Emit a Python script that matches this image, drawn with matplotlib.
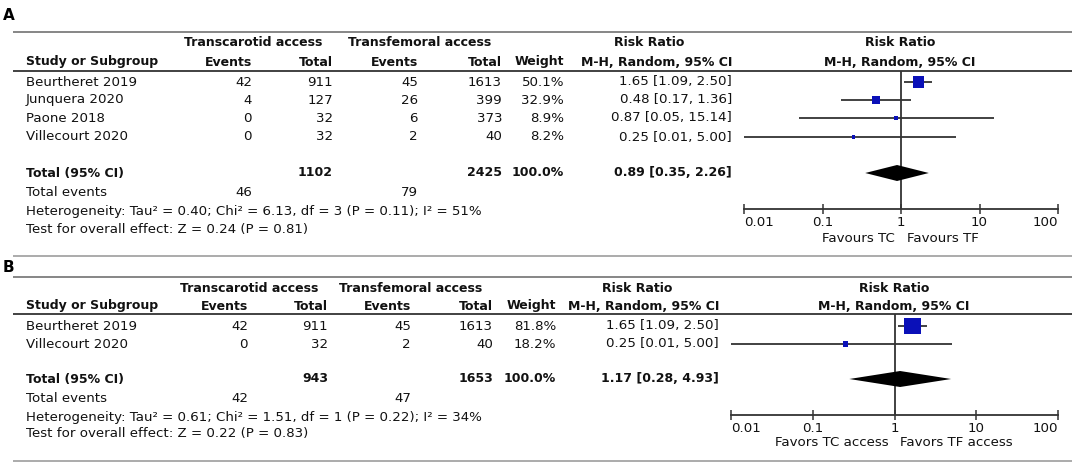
import numpy as np
import matplotlib.pyplot as plt
from matplotlib.ticker import NullLocator

plt.rcParams['font.family'] = ['DejaVu Sans']

# ---- panel A data
studies_a = ['Beurtheret 2019', 'Junquera 2020', 'Paone 2018', 'Villecourt 2020']
tc_events_a = [42, 4, 0, 0]
tc_total_a = [911, 127, 32, 32]
tf_events_a = [45, 26, 6, 2]
tf_total_a = [1613, 399, 373, 40]
weight_a = [50.1, 32.9, 8.9, 8.2]
rr_a = [1.65, 0.48, 0.87, 0.25]
lo_a = [1.09, 0.17, 0.05, 0.01]
hi_a = [2.50, 1.36, 15.14, 5.00]
pooled_a = [0.89, 0.35, 2.26]
het_a = 'Heterogeneity: Tau² = 0.40; Chi² = 6.13, df = 3 (P = 0.11); I² = 51%'
test_a = 'Test for overall effect: Z = 0.24 (P = 0.81)'
favours_a = ['Favours TC', 'Favours TF']

# ---- panel B data
studies_b = ['Beurtheret 2019', 'Villecourt 2020']
tc_events_b = [42, 0]
tc_total_b = [911, 32]
tf_events_b = [45, 2]
tf_total_b = [1613, 40]
weight_b = [81.8, 18.2]
rr_b = [1.65, 0.25]
lo_b = [1.09, 0.01]
hi_b = [2.50, 5.00]
pooled_b = [1.17, 0.28, 4.93]
het_b = 'Heterogeneity: Tau² = 0.61; Chi² = 1.51, df = 1 (P = 0.22); I² = 34%'
test_b = 'Test for overall effect: Z = 0.22 (P = 0.83)'
favours_b = ['Favors TC access', 'Favors TF access']

total_weight = 100.0
ticks = [0.01, 0.1, 1, 10, 100]
tick_labels = ['0.01', '0.1', '1', '10', '100']

W, H = 1084, 468
FS = 9.6      # regular text
FSB = 9       # bold text
TXT = '#111111'
BLUE = '#0a10b8'
DARK = '#333333'

fig = plt.figure(figsize=(W / 100, H / 100), dpi=100)
tab = fig.add_axes([0, 0, 1, 1])
tab.set_xlim(0, W)
tab.set_ylim(H, 0)
tab.axis('off')


def t(x, y, s, ha='left', bold=False):
    tab.text(x, y, s, ha=ha, va='center', color=TXT,
             fontsize=FSB if bold else FS,
             fontweight='bold' if bold else 'normal')


def panel(label, lay, studies, tce, tct, tfe, tft, wts, rr, lo, hi, pooled,
          het, test, favours):
    c = lay['cols']
    tab.text(3, lay['label'], label, fontsize=11, fontweight='bold',
             va='center', color='black')
    tab.hlines(lay['top'], 13, 1072, color='#7d7d7d', lw=1.3)
    tab.hlines(lay['hline'], 13, 1072, color=DARK, lw=1.3)
    tab.hlines(lay['bottom'], 13, 1072, color='#a5a5a5', lw=1.3)

    h1, h2 = lay['head']
    t(c['tc_mid'], h1, 'Transcarotid access', ha='center', bold=True)
    t(c['tf_mid'], h1, 'Transfemoral access', ha='center', bold=True)
    t(c['rr_mid'], h1, 'Risk Ratio', ha='center', bold=True)
    t(lay['fx_mid'], h1, 'Risk Ratio', ha='center', bold=True)
    t(26, h2, 'Study or Subgroup', bold=True)
    t(c['tce'], h2, 'Events', ha='right', bold=True)
    t(c['tct'], h2, 'Total', ha='right', bold=True)
    t(c['tfe'], h2, 'Events', ha='right', bold=True)
    t(c['tft'], h2, 'Total', ha='right', bold=True)
    t(c['w'], h2, 'Weight', ha='right', bold=True)
    t(c['rr'], h2, 'M-H, Random, 95% CI', ha='right', bold=True)
    t(lay['fx_mid'], h2, 'M-H, Random, 95% CI', ha='center', bold=True)

    for i, y in enumerate(lay['rows']):
        t(26, y, studies[i])
        t(c['tce'], y, str(tce[i]), ha='right')
        t(c['tct'], y, str(tct[i]), ha='right')
        t(c['tfe'], y, str(tfe[i]), ha='right')
        t(c['tft'], y, str(tft[i]), ha='right')
        t(c['w'], y, f'{wts[i]:.1f}%', ha='right')
        t(c['rr'], y, f'{rr[i]:.2f} [{lo[i]:.2f}, {hi[i]:.2f}]', ha='right')

    yt = lay['total']
    t(26, yt, 'Total (95% CI)', bold=True)
    t(c['tct'], yt, str(sum(tct)), ha='right', bold=True)
    t(c['tft'], yt, str(sum(tft)), ha='right', bold=True)
    t(c['w'], yt, f'{total_weight:.1f}%', ha='right', bold=True)
    t(c['rr'], yt, f'{pooled[0]:.2f} [{pooled[1]:.2f}, {pooled[2]:.2f}]',
      ha='right', bold=True)
    ye, yh, yz = lay['foot']
    t(26, ye, 'Total events')
    t(c['tce'], ye, str(sum(tce)), ha='right')
    t(c['tfe'], ye, str(sum(tfe)), ha='right')
    t(26, yh, het)
    t(26, yz, test)

    # forest plot, y in pixel rows
    x0, x1 = lay['fx']
    ytop, ybot = lay['hline'], lay['axis']
    ax = fig.add_axes([x0 / W, 1 - ybot / H, (x1 - x0) / W, (ybot - ytop) / H])
    ax.patch.set_visible(False)
    ax.set_xscale('log')
    ax.set_xlim(0.01, 100)
    ax.set_ylim(ybot, ytop)
    for s in ['left', 'right', 'top']:
        ax.spines[s].set_visible(False)
    ax.spines['bottom'].set_color(DARK)
    ax.spines['bottom'].set_linewidth(1.3)
    ax.set_xticks(ticks)
    ax.set_xticklabels(tick_labels)
    ax.xaxis.set_minor_locator(NullLocator())
    ax.set_yticks([])
    ax.tick_params(axis='x', direction='inout', length=6.5, width=1.1,
                   color=DARK, pad=1.5, labelsize=FS, labelcolor=TXT)
    labs = ax.get_xticklabels()
    labs[0].set_ha('left')
    labs[-1].set_ha('right')
    ax.axvline(1, color=DARK, lw=1.3, zorder=1)

    rows = lay['rows']
    ax.hlines(rows, lo, hi, color=DARK, lw=1.3, zorder=2, clip_on=False)
    side = 2 + 0.18 * np.array(wts)  # box side in px
    ax.scatter(rr, rows, marker='s', s=(side * 0.72) ** 2, color=BLUE,
               linewidths=0, zorder=3, clip_on=False)
    est, plo, phi = pooled
    dh = 8
    ax.fill([plo, est, phi, est], [yt, yt - dh, yt, yt + dh], color='black',
            lw=0, zorder=3)

    ax.annotate(favours[0], xy=(1, 0), xycoords=('data', 'axes fraction'),
                xytext=(-4.3, -lay['fav'] * 0.72), textcoords='offset points',
                ha='right', va='center', fontsize=FS, color=TXT)
    ax.annotate(favours[1], xy=(1, 0), xycoords=('data', 'axes fraction'),
                xytext=(4.3, -lay['fav'] * 0.72), textcoords='offset points',
                ha='left', va='center', fontsize=FS, color=TXT)


lay_a = dict(label=16, top=32, head=(43, 62), hline=71, bottom=256,
             rows=[82, 100, 118, 137], total=173, foot=(192, 211, 230),
             axis=209, fav=29, fx=(744, 1058), fx_mid=900,
             cols=dict(tc_mid=253, tf_mid=420, rr_mid=649, tce=252, tct=333,
                       tfe=418, tft=502, w=564, rr=732))
lay_b = dict(label=267, top=277, head=(288, 306), hline=314, bottom=461,
             rows=[326, 344], total=379, foot=(399, 417, 434),
             axis=415, fav=27, fx=(731, 1058), fx_mid=894,
             cols=dict(tc_mid=249, tf_mid=411, rr_mid=637, tce=248, tct=328,
                       tfe=411, tft=493, w=556, rr=719))

panel('A', lay_a, studies_a, tc_events_a, tc_total_a, tf_events_a, tf_total_a,
      weight_a, rr_a, lo_a, hi_a, pooled_a, het_a, test_a, favours_a)
panel('B', lay_b, studies_b, tc_events_b, tc_total_b, tf_events_b, tf_total_b,
      weight_b, rr_b, lo_b, hi_b, pooled_b, het_b, test_b, favours_b)

fig.savefig('out.png', dpi=100, facecolor='white')
